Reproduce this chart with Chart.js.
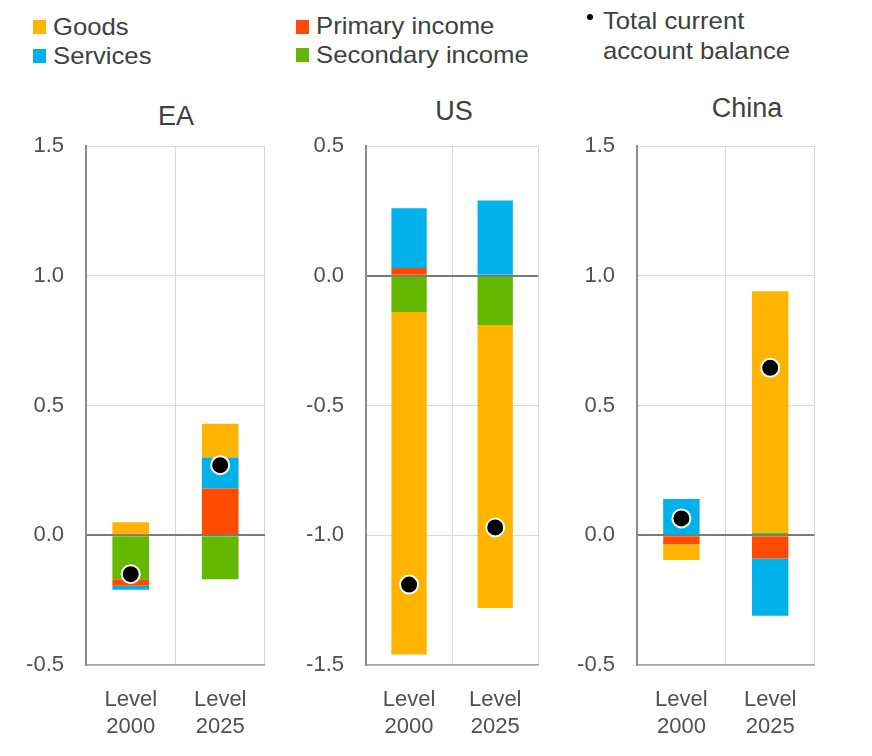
<!DOCTYPE html>
<html>
<head>
<meta charset="utf-8">
<script src="https://cdn.jsdelivr.net/npm/chart.js@4.4.1/dist/chart.umd.min.js"></script>
<style>
  body { margin: 0; background: #fff; }
  #wrap { position: relative; width: 872px; height: 756px; overflow: hidden;
          font-family: "Liberation Sans", Arial, sans-serif; color: #404040; }
  canvas { position: absolute; top: 95px; }
  .title { position: absolute; font-size: 27px; transform: translate(-50%, -50%); white-space: nowrap; }
  .leg { position: absolute; font-size: 24px; line-height: 28px; white-space: nowrap;
         transform: translateY(-50%) scaleX(1.07); transform-origin: left center; }
  .sw { position: absolute; width: 13px; height: 14px; }
  .dot { position: absolute; width: 6px; height: 6px; border-radius: 50%; background: #000; }
</style>
</head>
<body>
<div id="wrap">
  <div class="sw" style="left:33px;top:20px;background:#FFB400"></div>
  <div class="leg" style="left:53px;top:27px">Goods</div>
  <div class="sw" style="left:33px;top:49px;background:#00B1EA"></div>
  <div class="leg" style="left:53px;top:56px">Services</div>
  <div class="sw" style="left:296px;top:20px;background:#FF4B00"></div>
  <div class="leg" style="left:316px;top:26px">Primary income</div>
  <div class="sw" style="left:296px;top:48px;background:#65B800"></div>
  <div class="leg" style="left:316px;top:55px">Secondary income</div>
  <div class="dot" style="left:587px;top:14px"></div>
  <div class="leg" style="left:603px;top:21px">Total current</div>
  <div class="leg" style="left:603px;top:51px">account balance</div>

  <div class="title" style="left:176px;top:116px">EA</div>
  <div class="title" style="left:454px;top:111px">US</div>
  <div class="title" style="left:747px;top:108px">China</div>

  <canvas id="ea" width="269" height="661" style="left:0px"></canvas>
  <canvas id="us" width="264" height="661" style="left:280px"></canvas>
  <canvas id="cn" width="268" height="661" style="left:551px"></canvas>
</div>
<script>
const categories = [['Level', '2000'], ['Level', '2025']];

// euro area
const eaGoods = [0.05, 0.13];
const eaServices = [-0.015, 0.12];
const eaPrimary = [-0.025, 0.18];
const eaSecondary = [-0.17, -0.17];
const eaTotal = [-0.15, 0.27];
const eaTicks = [-0.5, 0, 0.5, 1.0, 1.5];

// United States
const usGoods = [-1.32, -1.09];
const usServices = [0.23, 0.29];
const usPrimary = [0.03, 0];
const usSecondary = [-0.14, -0.19];
const usTotal = [-1.19, -0.97];
const usTicks = [-1.5, -1.0, -0.5, 0, 0.5];

// China
const cnGoods = [-0.06, 0.93];
const cnServices = [0.14, -0.22];
const cnPrimary = [-0.035, -0.09];
const cnSecondary = [0, 0.01];
const cnTotal = [0.065, 0.645];
const cnTicks = [-0.5, 0, 0.5, 1.0, 1.5];

const colors = { goods: '#FFB400', services: '#00B1EA', primary: '#FF4B00', secondary: '#65B800' };
const font = 'Liberation Sans, Arial, sans-serif';

function makePanel(id, goods, services, primary, secondary, total, ticks) {
  const bar = (label, data, color) => ({
    type: 'bar', label, data, backgroundColor: color, borderWidth: 0,
    barPercentage: 0.41, categoryPercentage: 1
  });
  new Chart(document.getElementById(id), {
    data: {
      labels: categories,
      datasets: [
        {
          type: 'line', label: 'Total current account balance', data: total,
          stack: 'total', showLine: false, order: -1,
          pointRadius: 9, pointBorderWidth: 2, pointBackgroundColor: '#000', pointBorderColor: '#fff'
        },
        // stacking order from the zero line outwards
        bar('Secondary income', secondary, colors.secondary),
        bar('Primary income', primary, colors.primary),
        bar('Services', services, colors.services),
        bar('Goods', goods, colors.goods)
      ]
    },
    options: {
      responsive: false,
      animation: false,
      layout: { autoPadding: false, padding: { top: 51, right: 2, bottom: 0, left: 0 } },
      plugins: { legend: { display: false }, tooltip: { enabled: false } },
      scales: {
        x: {
          stacked: true,
          grid: { offset: true, color: '#d9d9d9', drawTicks: false },
          border: { color: '#a6a6a6', width: 1.5 },
          ticks: { color: '#505050', padding: 22, font: { family: font, size: 22, lineHeight: 1.2 } },
          afterFit: s => { s.height = 91; }
        },
        y: {
          stacked: true,
          min: ticks[0],
          max: ticks[ticks.length - 1],
          afterBuildTicks: s => { s.ticks = ticks.map(v => ({ value: v })); },
          grid: {
            drawTicks: false,
            color: c => c.tick.value === 0 ? '#7a7a7a' : '#d9d9d9',
            lineWidth: c => c.tick.value === 0 ? 2 : 1
          },
          border: { color: '#8c8c8c', width: 2 },
          ticks: {
            color: '#505050', padding: 22, font: { family: font, size: 22 },
            callback: v => v.toFixed(1)
          },
          afterFit: s => { s.width = 86; }
        }
      }
    }
  });
}

makePanel('ea', eaGoods, eaServices, eaPrimary, eaSecondary, eaTotal, eaTicks);
makePanel('us', usGoods, usServices, usPrimary, usSecondary, usTotal, usTicks);
makePanel('cn', cnGoods, cnServices, cnPrimary, cnSecondary, cnTotal, cnTicks);
</script>
</body>
</html>
